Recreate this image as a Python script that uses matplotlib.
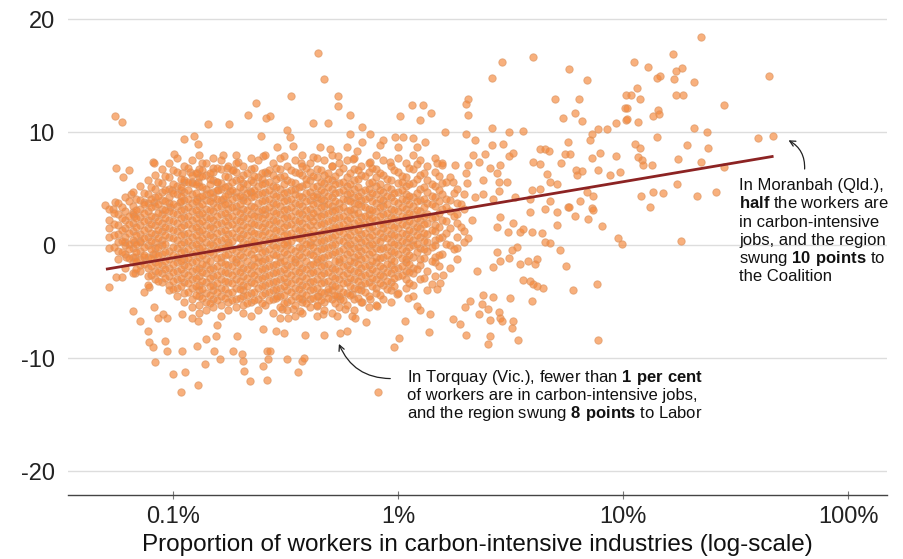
import matplotlib
matplotlib.use("Agg")
from matplotlib import pyplot as plt

plt.rcParams['font.family'] = ['Liberation Sans', 'DejaVu Sans']
plt.rcParams['mathtext.fontset'] = 'custom'
plt.rcParams['mathtext.rm'] = 'Liberation Sans'
plt.rcParams['mathtext.bf'] = 'Liberation Sans:bold'
plt.rcParams['axes.unicode_minus'] = False

# (share of workers in carbon-intensive industries %, swing in points)
upper_left = [
    (0.055, 11.4), (0.059, 10.9), (0.234, 12.6), (0.215, 11.5), (0.143, 10.7), (0.177, 10.7),
    (0.259, 11.3), (0.112, 9.4), (0.124, 9.7), (0.129, 9.0), (0.246, 9.7), (0.101, 8.1),
    (0.167, 8.0), (0.081, 7.4), (0.082, 7.3), (0.056, 6.8), (0.064, 6.7), (0.060, 6.0),
    (0.135, 7.3), (0.110, 6.4), (0.119, 6.5), (0.128, 6.4), (0.112, 5.6), (0.121, 5.6),
    (0.129, 5.6), (0.151, 6.8), (0.174, 6.8), (0.195, 7.4), (0.185, 6.7), (0.251, 7.9),
    (0.262, 6.4), (0.227, 5.6), (0.099, 4.9), (0.108, 4.9), (0.065, 4.5), (0.074, 3.8),
    (0.082, 3.8), (0.050, 3.6), (0.055, 3.8), (0.157, 5.6), (0.159, 4.9), (0.179, 4.8),
    (0.167, 4.1), (0.097, 3.4), (0.107, 3.8), (0.128, 4.1), (0.205, 4.3), (0.220, 4.8),
    (0.066, 2.9), (0.067, 2.6), (0.054, 3.2),
]
upper_mid = [
    (0.335, 13.2), (0.44, 17.0), (0.47, 14.7), (0.54, 13.2), (0.54, 12.3), (0.42, 10.8),
    (0.49, 10.8), (0.61, 11.5), (0.61, 9.8), (0.69, 10.5), (0.75, 9.8), (1.15, 12.4),
    (1.29, 12.4), (1.40, 11.7), (1.25, 11.1), (1.02, 11.4), (1.62, 10.0), (0.32, 10.2),
    (0.34, 8.8), (0.27, 11.4), (0.33, 9.6), (0.97, 9.6), (1.05, 9.6), (1.17, 9.5),
    (0.29, 8.7), (0.45, 8.7), (0.50, 8.5), (0.54, 7.9), (0.59, 8.7), (0.66, 8.3),
    (0.69, 9.1), (0.83, 8.9), (0.86, 9.3), (1.00, 8.7), (1.21, 8.7), (1.32, 9.1),
    (0.31, 7.9), (0.37, 7.3), (0.42, 7.8), (0.51, 7.0), (0.63, 7.6), (0.75, 7.4),
    (0.92, 7.4), (1.21, 7.2), (1.49, 7.3), (1.57, 7.1),
]
upper_right = [
    (2.90, 16.2), (3.98, 16.7), (2.62, 14.8), (5.75, 15.6), (6.9, 14.6), (2.05, 12.9),
    (2.0, 12.5), (2.05, 11.5), (5.0, 12.9), (6.4, 12.9), (5.4, 11.3), (6.1, 11.7),
    (6.6, 11.0), (10.3, 13.3), (10.2, 12.1), (10.3, 11.1), (2.62, 10.4), (3.11, 10.0),
    (3.6, 10.1), (2.0, 9.8), (2.2, 9.3), (2.62, 8.9), (2.93, 9.0), (7.7, 10.3),
    (8.5, 10.3), (9.3, 10.8), (7.3, 9.8), (7.1, 9.3), (5.7, 9.1), (4.28, 8.5),
    (4.5, 8.5), (4.7, 8.3), (5.5, 8.1), (5.8, 8.1), (5.3, 7.3), (7.9, 8.2),
    (7.3, 7.7), (9.3, 7.9), (3.25, 8.2), (3.1, 7.9), (2.15, 8.0), (2.44, 8.1),
    (1.79, 7.1), (2.05, 7.1), (2.29, 7.4), (2.56, 6.8), (2.84, 7.1), (2.75, 6.4),
    (3.98, 7.4), (4.28, 7.2), (6.2, 6.7), (6.6, 6.6), (6.25, 6.2), (7.7, 6.7),
    (8.75, 6.2), (9.7, 6.5), (2.0, 6.4), (2.03, 5.5), (2.38, 5.8), (2.8, 5.6),
    (3.05, 5.6), (4.6, 6.3), (4.74, 5.6), (5.1, 5.4), (3.94, 4.9), (4.28, 5.0),
    (1.76, 5.6), (2.2, 4.3), (2.38, 4.5), (2.65, 4.1), (2.8, 4.8), (3.3, 4.3),
    (3.86, 4.1), (6.9, 4.7), (7.35, 4.4), (4.74, 3.9), (6.44, 3.9), (5.7, 3.4),
    (7.25, 3.3),
]
far_right = [
    (22.2, 18.4), (44.5, 15.0), (16.6, 16.9), (12.9, 15.8), (11.2, 16.2), (18.2, 15.7),
    (17.2, 15.4), (14.6, 15.0), (14.2, 14.8), (16.8, 14.7), (20.6, 14.4), (11.5, 13.9),
    (10.9, 13.3), (11.9, 12.9), (17.2, 13.3), (18.5, 13.3), (28.1, 12.4), (10.4, 12.1),
    (14.3, 12.0), (14.4, 11.6), (13.6, 11.4), (11.6, 10.9), (10.4, 11.2), (20.6, 10.4),
    (23.5, 10.0), (39.9, 9.5), (46.4, 9.7), (14.2, 9.6), (11.3, 9.0), (11.9, 8.6),
    (12.2, 7.5), (11.6, 7.8), (12.3, 7.1), (13.5, 7.1), (19.2, 8.9), (23.8, 8.6),
    (17.6, 7.6), (22.3, 7.4), (28.1, 6.9), (17.4, 5.4), (13.6, 4.7), (15.1, 4.6),
    (12.0, 4.4), (13.2, 3.4), (21.3, 4.4), (26.0, 4.7), (8.1, 1.7), (9.5, 0.6),
    (9.9, 0.1), (18.1, 0.4),
]
lower_right = [
    (3.86, 2.9), (4.5, 3.2), (5.1, 2.9), (5.75, 3.4), (6.1, 2.6), (7.0, 2.3),
    (7.35, 3.1), (2.75, 1.6), (3.08, 1.2), (3.48, 1.2), (3.6, 1.4), (3.94, 1.2),
    (4.36, 1.1), (5.1, 1.8), (2.84, 2.5), (3.25, 2.0), (4.5, 0.3), (4.74, 0.2),
    (5.25, -0.4), (2.75, -0.6), (3.2, -0.4), (3.38, -0.2), (3.1, -1.1), (2.84, -1.4),
    (2.65, -1.9), (3.48, -1.7), (3.78, -1.4), (4.15, -1.2), (4.05, -1.7), (5.6, -1.8),
    (2.25, -2.3), (3.6, -3.1), (3.86, -3.2), (3.98, -3.4), (4.15, -3.6), (4.4, -3.8),
    (6.0, -4.0), (7.65, -3.4), (2.38, -4.4), (2.65, -4.6), (3.15, -4.7), (3.94, -4.9),
    (2.09, -4.9), (1.98, -5.5), (2.36, -5.2), (2.5, -5.6), (2.29, -6.1), (2.56, -6.6),
    (2.8, -5.9), (2.84, -6.4), (2.9, -6.7), (3.25, -6.7), (3.2, -7.3), (1.76, -6.5),
    (1.89, -7.0), (2.0, -7.9), (2.56, -8.0), (2.5, -8.7), (3.4, -8.4), (7.7, -8.4),
]
lower_left = [
    (0.052, -3.7), (0.056, -2.8), (0.059, -2.8), (0.066, -5.8), (0.071, -6.7), (0.077, -7.6),
    (0.078, -8.6), (0.081, -9.0), (0.083, -10.3), (0.092, -8.5), (0.094, -9.4), (0.11, -9.4),
    (0.10, -11.4), (0.113, -11.2), (0.108, -13.0), (0.129, -12.4), (0.128, -8.9), (0.14, -8.3),
    (0.138, -10.5), (0.155, -8.0), (0.152, -9.4), (0.162, -10.1), (0.185, -9.4), (0.203, -9.6),
    (0.205, -10.2), (0.207, -11.1), (0.22, -12.0), (0.262, -11.9), (0.25, -10.7), (0.262, -9.4),
    (0.264, -10.1), (0.193, -8.0), (0.25, -7.4), (0.082, -5.5), (0.09, -6.1), (0.094, -6.4),
    (0.086, -6.4), (0.074, -4.1), (0.078, -3.7), (0.068, -2.5), (0.11, -6.1), (0.121, -6.4),
    (0.129, -6.7), (0.157, -7.1), (0.061, 0.3), (0.067, 0.3), (0.071, 0.4), (0.062, -1.0),
    (0.068, -1.0), (0.074, -1.0), (0.081, -0.8),
]
lower_mid = [
    (0.32, -10.1), (0.36, -11.2), (0.375, -10.2), (0.38, -10.0), (0.386, -7.9), (0.47, -7.9),
    (0.55, -7.8), (0.59, -7.6), (0.72, -6.8), (0.815, -13.0), (0.96, -9.0), (1.01, -8.2),
    (1.07, -6.7), (1.37, -7.7), (0.31, -7.8), (0.287, -7.6), (0.27, -9.4), (0.30, -6.4),
    (0.325, -6.4), (0.367, -5.8), (0.436, -5.4), (0.465, -6.1), (0.535, -6.3), (0.58, -5.6),
    (0.625, -6.3), (0.645, -6.4), (0.305, -5.6), (0.34, -5.6), (0.535, -4.5), (0.55, -4.8),
    (0.625, -4.3), (0.69, -5.0), (0.81, -5.4), (0.75, -4.8), (0.99, -4.3), (1.11, -4.7),
    (1.21, -5.4), (1.39, -6.1), (1.25, -5.7), (0.375, -4.8), (0.44, -4.5), (0.49, -4.1),
    (1.42, -3.4), (1.54, -3.3), (1.58, -2.6), (1.49, -3.9), (0.29, -4.5),
]
# dense middle of the cloud, read row by row (swing, shares)
core_rows = [
    (8.0, [0.13, 0.19, 0.257, 0.375, 0.507, 0.798, 1.16]),
    (7.75, [0.104, 0.151, 0.221, 0.299, 0.436, 0.636, 1.0, 1.46]),
    (7.5, [0.121, 0.163, 0.238, 0.347, 0.47, 0.59, 0.86, 1.25]),
    (7.25, [0.096, 0.14, 0.19, 0.277, 0.404, 0.547, 0.74, 1.08, 1.57]),
    (7.0, [0.112, 0.176, 0.205, 0.322, 0.375, 0.507, 0.686, 0.928, 1.35]),
    (6.75, [0.089, 0.13, 0.163, 0.221, 0.299, 0.436, 0.636, 0.798, 1.16]),
    (6.5, [0.104, 0.151, 0.19, 0.257, 0.347, 0.404, 0.547, 0.74, 1.0, 1.46]),
    (6.25, [0.083, 0.121, 0.14, 0.205, 0.277, 0.375, 0.47, 0.686, 0.86, 1.25]),
    (6.0, [0.096, 0.13, 0.176, 0.238, 0.299, 0.436, 0.59, 0.798, 1.08, 1.7]),
    (5.75, [0.077, 0.112, 0.151, 0.19, 0.221, 0.322, 0.404, 0.507, 0.636, 0.928, 1.35]),
    (5.5, [0.089, 0.121, 0.163, 0.205, 0.257, 0.347, 0.47, 0.547, 0.74, 1.0, 1.16, 1.57]),
    (5.25, [0.071, 0.104, 0.13, 0.176, 0.238, 0.277, 0.375, 0.436, 0.59, 0.798, 1.08, 1.46]),
    (5.0, [0.083, 0.096, 0.14, 0.163, 0.205, 0.299, 0.347, 0.507, 0.636, 0.74, 0.928, 1.25, 1.83]),
    (4.75, [0.066, 0.089, 0.112, 0.151, 0.19, 0.221, 0.257, 0.322, 0.404, 0.47, 0.547, 0.686, 0.86, 1.0, 1.35]),
    (4.5, [0.077, 0.104, 0.121, 0.14, 0.176, 0.238, 0.277, 0.347, 0.436, 0.59, 0.798, 1.08, 1.57, 1.97]),
    (4.25, [0.061, 0.083, 0.096, 0.13, 0.151, 0.19, 0.221, 0.299, 0.375, 0.436, 0.507, 0.636, 0.74, 0.928, 1.16, 1.46]),
    (4.0, [0.071, 0.089, 0.112, 0.14, 0.163, 0.205, 0.257, 0.322, 0.404, 0.47, 0.59, 0.686, 0.86, 1.08, 1.25, 1.7]),
    (3.75, [0.057, 0.077, 0.096, 0.121, 0.151, 0.176, 0.238, 0.277, 0.347, 0.436, 0.547, 0.636, 0.798, 1.0, 1.35, 1.83]),
    (3.5, [0.066, 0.083, 0.104, 0.13, 0.163, 0.19, 0.221, 0.299, 0.375, 0.47, 0.507, 0.686, 0.86, 1.16, 1.46]),
    (3.25, [0.052, 0.071, 0.089, 0.112, 0.14, 0.176, 0.205, 0.257, 0.322, 0.404, 0.547, 0.636, 0.74, 0.928, 1.08, 1.57, 1.97]),
    (3.0, [0.061, 0.077, 0.096, 0.121, 0.151, 0.19, 0.238, 0.277, 0.347, 0.436, 0.507, 0.59, 0.798, 1.0, 1.25, 1.7]),
    (2.75, [0.057, 0.066, 0.089, 0.104, 0.13, 0.163, 0.221, 0.257, 0.299, 0.375, 0.47, 0.636, 0.74, 0.86, 1.16, 1.35, 1.83]),
    (2.5, [0.071, 0.083, 0.112, 0.14, 0.176, 0.205, 0.238, 0.322, 0.404, 0.436, 0.547, 0.686, 0.928, 1.08, 1.46]),
    (2.25, [0.052, 0.061, 0.077, 0.096, 0.121, 0.151, 0.19, 0.277, 0.347, 0.507, 0.59, 0.74, 0.798, 1.0, 1.25, 1.57, 2.13]),
    (2.0, [0.066, 0.089, 0.104, 0.13, 0.163, 0.221, 0.257, 0.299, 0.375, 0.47, 0.636, 0.86, 1.16, 1.35, 1.83]),
    (1.75, [0.057, 0.071, 0.083, 0.112, 0.14, 0.176, 0.205, 0.238, 0.322, 0.404, 0.436, 0.547, 0.686, 0.928, 1.08, 1.46]),
    (1.5, [0.052, 0.061, 0.077, 0.096, 0.121, 0.151, 0.19, 0.277, 0.347, 0.507, 0.59, 0.74, 0.86, 1.0, 1.25, 1.7]),
    (1.25, [0.066, 0.089, 0.104, 0.13, 0.163, 0.221, 0.257, 0.299, 0.375, 0.47, 0.547, 0.636, 0.798, 1.16, 1.46, 1.97]),
    (1.0, [0.057, 0.071, 0.083, 0.112, 0.14, 0.176, 0.205, 0.238, 0.322, 0.404, 0.436, 0.686, 0.928, 1.08, 1.35]),
    (0.75, [0.052, 0.061, 0.077, 0.096, 0.121, 0.151, 0.19, 0.277, 0.347, 0.507, 0.59, 0.74, 0.86, 1.0, 1.25, 1.57, 1.83]),
    (0.5, [0.066, 0.089, 0.104, 0.13, 0.163, 0.221, 0.257, 0.299, 0.375, 0.47, 0.547, 0.636, 0.798, 1.16, 1.46]),
    (0.25, [0.057, 0.071, 0.083, 0.112, 0.14, 0.176, 0.205, 0.238, 0.322, 0.404, 0.436, 0.686, 0.928, 1.08, 1.35, 1.97]),
    (0.0, [0.061, 0.077, 0.089, 0.121, 0.151, 0.176, 0.221, 0.277, 0.322, 0.404, 0.507, 0.59, 0.74, 1.0, 1.16, 1.46, 1.7]),
    (-0.25, [0.052, 0.066, 0.083, 0.104, 0.13, 0.163, 0.205, 0.238, 0.299, 0.375, 0.47, 0.636, 0.798, 0.86, 1.25, 1.83]),
    (-0.5, [0.057, 0.071, 0.096, 0.112, 0.14, 0.19, 0.257, 0.347, 0.436, 0.547, 0.686, 0.928, 1.08, 1.35]),
    (-0.75, [0.061, 0.083, 0.089, 0.121, 0.151, 0.176, 0.221, 0.277, 0.322, 0.404, 0.507, 0.59, 0.74, 1.0, 1.57]),
    (-1.0, [0.066, 0.077, 0.104, 0.13, 0.163, 0.205, 0.238, 0.299, 0.375, 0.47, 0.636, 0.798, 0.86, 1.16, 1.46]),
    (-1.25, [0.057, 0.071, 0.096, 0.112, 0.14, 0.19, 0.257, 0.347, 0.436, 0.547, 0.686, 0.928, 1.08, 1.25, 1.83]),
    (-1.5, [0.066, 0.083, 0.104, 0.121, 0.163, 0.19, 0.238, 0.299, 0.347, 0.436, 0.547, 0.636, 0.798, 1.08, 1.46]),
    (-1.75, [0.071, 0.089, 0.112, 0.14, 0.176, 0.221, 0.277, 0.322, 0.404, 0.47, 0.59, 0.74, 0.928, 1.25]),
    (-2.0, [0.061, 0.077, 0.096, 0.13, 0.151, 0.205, 0.257, 0.375, 0.507, 0.686, 0.86, 1.0, 1.16, 1.7]),
    (-2.25, [0.071, 0.083, 0.104, 0.121, 0.163, 0.19, 0.238, 0.299, 0.347, 0.436, 0.547, 0.636, 0.798, 1.08, 1.35]),
    (-2.5, [0.066, 0.089, 0.112, 0.14, 0.176, 0.221, 0.277, 0.322, 0.404, 0.47, 0.59, 0.74, 0.928, 1.16]),
    (-2.75, [0.077, 0.096, 0.13, 0.151, 0.205, 0.257, 0.375, 0.507, 0.686, 0.86, 1.0, 1.46]),
    (-3.0, [0.083, 0.104, 0.121, 0.163, 0.19, 0.238, 0.299, 0.347, 0.436, 0.547, 0.636, 0.798, 1.08, 1.25]),
    (-3.25, [0.089, 0.112, 0.14, 0.176, 0.221, 0.277, 0.322, 0.404, 0.47, 0.59, 0.74, 0.928]),
    (-3.5, [0.077, 0.096, 0.13, 0.151, 0.205, 0.257, 0.375, 0.507, 0.686, 0.86, 1.16]),
    (-3.75, [0.104, 0.121, 0.163, 0.19, 0.238, 0.299, 0.347, 0.436, 0.547, 0.636, 0.798, 1.08]),
    (-4.0, [0.096, 0.13, 0.151, 0.205, 0.277, 0.322, 0.404, 0.507, 0.686, 0.928, 1.35]),
    (-4.25, [0.112, 0.14, 0.176, 0.221, 0.257, 0.375, 0.47, 0.59, 0.798, 1.0]),
    (-4.5, [0.104, 0.13, 0.163, 0.205, 0.299, 0.347, 0.436, 0.547, 0.74, 1.16]),
    (-4.75, [0.121, 0.151, 0.19, 0.238, 0.277, 0.404, 0.507, 0.636, 0.86]),
    (-5.0, [0.112, 0.14, 0.176, 0.221, 0.322, 0.375, 0.47, 0.686, 0.928]),
    (-5.25, [0.13, 0.163, 0.205, 0.257, 0.347, 0.436, 0.59, 0.798]),
    (-5.5, [0.121, 0.151, 0.19, 0.299, 0.404, 0.547, 0.74]),
    (-5.75, [0.14, 0.176, 0.238, 0.322, 0.47, 0.636]),
    (-6.0, [0.13, 0.205, 0.277, 0.375, 0.507]),
    (-6.25, [0.163, 0.221, 0.347, 0.436]),
]
core_rows_b = [
    (6.875, [0.117, 0.157, 0.23, 0.288, 0.39, 0.569, 0.769, 1.12]),
    (6.625, [0.10, 0.135, 0.183, 0.267, 0.335, 0.453, 0.661, 0.964]),
    (6.375, [0.126, 0.146, 0.213, 0.248, 0.361, 0.489, 0.613, 0.829, 1.30]),
    (6.125, [0.0925, 0.135, 0.17, 0.23, 0.311, 0.42, 0.527, 0.713, 1.04, 1.52]),
    (5.875, [0.108, 0.146, 0.198, 0.248, 0.288, 0.39, 0.489, 0.661, 0.894, 1.21]),
    (5.625, [0.086, 0.117, 0.157, 0.183, 0.267, 0.335, 0.453, 0.569, 0.769, 1.04, 1.64]),
    (5.375, [0.10, 0.126, 0.146, 0.213, 0.248, 0.311, 0.39, 0.527, 0.613, 0.829, 1.12, 1.41]),
    (5.125, [0.08, 0.108, 0.135, 0.17, 0.198, 0.288, 0.361, 0.42, 0.489, 0.661, 0.894, 1.30]),
    (4.875, [0.0925, 0.117, 0.157, 0.183, 0.23, 0.267, 0.335, 0.453, 0.569, 0.713, 0.829, 1.04, 1.52]),
    (4.625, [0.074, 0.10, 0.126, 0.146, 0.213, 0.248, 0.311, 0.39, 0.527, 0.613, 0.769, 0.964, 1.21, 1.77]),
    (4.375, [0.086, 0.108, 0.135, 0.17, 0.198, 0.23, 0.288, 0.361, 0.42, 0.489, 0.661, 0.894, 1.12, 1.41]),
    (4.125, [0.0685, 0.08, 0.117, 0.157, 0.183, 0.267, 0.335, 0.453, 0.569, 0.713, 0.829, 1.04, 1.30, 1.64]),
    (3.875, [0.0635, 0.0925, 0.108, 0.126, 0.146, 0.213, 0.248, 0.311, 0.39, 0.527, 0.613, 0.769, 0.964, 1.21, 1.52]),
    (3.625, [0.074, 0.086, 0.10, 0.135, 0.17, 0.198, 0.288, 0.361, 0.42, 0.489, 0.661, 0.894, 1.12, 1.41, 1.90]),
    (3.375, [0.059, 0.08, 0.117, 0.157, 0.183, 0.23, 0.267, 0.335, 0.453, 0.569, 0.713, 0.829, 1.04, 1.30, 1.64]),
    (3.125, [0.0685, 0.0925, 0.108, 0.126, 0.146, 0.213, 0.248, 0.311, 0.39, 0.527, 0.613, 0.769, 0.964, 1.21]),
    (2.875, [0.0545, 0.074, 0.086, 0.10, 0.135, 0.17, 0.198, 0.288, 0.361, 0.42, 0.489, 0.661, 0.894, 1.12, 1.52]),
    (2.625, [0.0635, 0.08, 0.117, 0.157, 0.183, 0.23, 0.267, 0.335, 0.453, 0.569, 0.713, 0.829, 1.04, 1.30, 1.77]),
    (2.375, [0.059, 0.0685, 0.0925, 0.108, 0.126, 0.146, 0.213, 0.248, 0.311, 0.39, 0.527, 0.613, 0.769, 0.964, 1.21, 1.41]),
    (2.125, [0.074, 0.086, 0.10, 0.135, 0.17, 0.198, 0.288, 0.361, 0.42, 0.489, 0.661, 0.894, 1.12, 1.64]),
    (1.875, [0.0545, 0.0635, 0.08, 0.117, 0.157, 0.183, 0.23, 0.267, 0.335, 0.453, 0.569, 0.713, 0.829, 1.04, 1.30]),
    (1.625, [0.0685, 0.0925, 0.108, 0.126, 0.146, 0.213, 0.248, 0.311, 0.39, 0.527, 0.613, 0.769, 0.964, 1.21, 1.52, 1.90]),
    (1.375, [0.059, 0.074, 0.086, 0.10, 0.135, 0.17, 0.198, 0.288, 0.361, 0.42, 0.489, 0.661, 0.894, 1.12, 1.41]),
    (1.125, [0.0635, 0.08, 0.117, 0.157, 0.183, 0.23, 0.267, 0.335, 0.453, 0.569, 0.713, 0.829, 1.04, 1.30, 1.64]),
    (0.875, [0.0545, 0.0685, 0.0925, 0.108, 0.126, 0.146, 0.213, 0.248, 0.311, 0.39, 0.527, 0.613, 0.769, 0.964, 1.21]),
    (0.625, [0.074, 0.086, 0.10, 0.135, 0.17, 0.198, 0.288, 0.361, 0.42, 0.489, 0.661, 0.894, 1.12, 1.52, 2.05]),
    (0.375, [0.059, 0.08, 0.117, 0.157, 0.183, 0.23, 0.267, 0.335, 0.453, 0.569, 0.713, 0.829, 1.04, 1.30]),
    (0.125, [0.0635, 0.0685, 0.0925, 0.108, 0.126, 0.146, 0.213, 0.248, 0.311, 0.39, 0.527, 0.613, 0.769, 0.964, 1.21, 1.64]),
    (-0.125, [0.0545, 0.074, 0.086, 0.10, 0.135, 0.17, 0.198, 0.288, 0.361, 0.42, 0.489, 0.661, 0.894, 1.12, 1.41]),
    (-0.375, [0.0635, 0.08, 0.117, 0.157, 0.183, 0.23, 0.267, 0.335, 0.453, 0.569, 0.713, 0.829, 1.04, 1.30, 1.77]),
    (-0.625, [0.059, 0.0685, 0.0925, 0.108, 0.126, 0.146, 0.213, 0.248, 0.311, 0.39, 0.527, 0.613, 0.769, 0.964, 1.21]),
    (-0.875, [0.074, 0.086, 0.10, 0.135, 0.17, 0.198, 0.288, 0.361, 0.42, 0.489, 0.661, 0.894, 1.12, 1.52]),
    (-1.125, [0.0635, 0.08, 0.117, 0.157, 0.183, 0.23, 0.267, 0.335, 0.453, 0.569, 0.713, 0.829, 1.04, 1.30]),
    (-1.375, [0.0685, 0.0925, 0.108, 0.126, 0.146, 0.213, 0.248, 0.311, 0.39, 0.527, 0.613, 0.769, 0.964, 1.41]),
    (-1.625, [0.074, 0.086, 0.10, 0.135, 0.17, 0.198, 0.288, 0.361, 0.42, 0.489, 0.661, 0.894, 1.12]),
    (-1.875, [0.08, 0.117, 0.157, 0.183, 0.23, 0.267, 0.335, 0.453, 0.569, 0.713, 0.829, 1.04, 1.52]),
    (-2.125, [0.0685, 0.0925, 0.108, 0.126, 0.146, 0.213, 0.248, 0.311, 0.39, 0.527, 0.613, 0.769, 0.964, 1.21]),
    (-2.375, [0.086, 0.10, 0.135, 0.17, 0.198, 0.288, 0.361, 0.42, 0.489, 0.661, 0.894, 1.12]),
    (-2.625, [0.08, 0.117, 0.157, 0.183, 0.23, 0.267, 0.335, 0.453, 0.569, 0.713, 0.829, 1.04]),
    (-2.875, [0.0925, 0.108, 0.126, 0.146, 0.213, 0.248, 0.311, 0.39, 0.527, 0.613, 0.769, 0.964, 1.30]),
    (-3.125, [0.086, 0.10, 0.135, 0.17, 0.198, 0.288, 0.361, 0.42, 0.489, 0.661, 0.894]),
    (-3.375, [0.117, 0.157, 0.183, 0.23, 0.267, 0.335, 0.453, 0.569, 0.713, 0.829, 1.12]),
    (-3.625, [0.108, 0.126, 0.146, 0.213, 0.248, 0.311, 0.39, 0.527, 0.613, 0.769, 0.964]),
    (-3.875, [0.10, 0.135, 0.17, 0.198, 0.288, 0.361, 0.42, 0.489, 0.661, 0.894]),
    (-4.125, [0.117, 0.157, 0.183, 0.23, 0.267, 0.335, 0.453, 0.569, 0.713]),
    (-4.375, [0.126, 0.146, 0.213, 0.248, 0.311, 0.39, 0.527, 0.613, 0.829]),
    (-4.625, [0.135, 0.17, 0.198, 0.288, 0.361, 0.42, 0.489, 0.661]),
    (-4.875, [0.157, 0.183, 0.23, 0.267, 0.335, 0.453, 0.569]),
    (-5.125, [0.146, 0.213, 0.248, 0.311, 0.39, 0.527]),
]

# trend line end points
fit_pct = [0.051, 46.0]
fit_swing = [-2.1, 7.85]

x_ticks = [0.1, 1, 10, 100]
x_tick_labels = ['0.1%', '1%', '10%', '100%']
y_ticks = [-20, -10, 0, 10, 20]

moranbah_point = (53, 9.4)
moranbah_lines = [
    'In Moranbah (Qld.),',
    r'$\mathbf{half}$ the workers are',
    'in carbon-intensive',
    'jobs, and the region',
    r'swung $\mathbf{10\ points}$ to',
    'the Coalition',
]
torquay_point = (0.54, -8.5)
torquay_lines = [
    r'In Torquay (Vic.), fewer than $\mathbf{1\ per\ cent}$',
    'of workers are in carbon-intensive jobs,',
    r'and the region swung $\mathbf{8\ points}$ to Labor',
]

pts = upper_left + upper_mid + upper_right + far_right + lower_right + lower_left + lower_mid
for swing, shares in core_rows + core_rows_b:
    pts += [(s, swing) for s in shares]
xs = [p[0] for p in pts]
ys = [p[1] for p in pts]

fig = plt.figure(figsize=(9.04, 5.59), dpi=100)
ax = fig.add_axes([0.0752, 0.1145, 0.906, 0.8855])

ax.scatter(xs, ys, s=28, facecolor='#f5883a', edgecolor='#dc935f', linewidth=0.7,
           alpha=0.66, zorder=3)
ax.plot(fit_pct, fit_swing, color='#8c2323', linewidth=2.0, zorder=4)

ax.set_xscale('log')
ax.set_xlim(0.0341, 149)
ax.set_ylim(-22.1, 21.7)
ax.set_xticks(x_ticks)
ax.set_xticklabels(x_tick_labels)
ax.minorticks_off()
ax.set_yticks(y_ticks)
ax.yaxis.grid(True, color='#dddddd', linewidth=1.0)
ax.set_axisbelow(True)
for side in ['top', 'right', 'left']:
    ax.spines[side].set_visible(False)
ax.spines['bottom'].set_color('#444444')
ax.spines['bottom'].set_linewidth(1.0)
ax.tick_params(axis='y', length=0, pad=9.5, labelsize=17, labelcolor='#222222')
ax.tick_params(axis='x', direction='inout', length=6, color='#777777', pad=5,
               labelsize=17, labelcolor='#222222')
ax.set_xlabel('Proportion of workers in carbon-intensive industries (log-scale)',
              fontsize=17.5, color='#111111', labelpad=4.5)

ax.annotate('', xy=moranbah_point, xytext=(64, 6.5),
            arrowprops=dict(arrowstyle='->', color='#222222', lw=0.9,
                            connectionstyle='arc3,rad=0.35'))
for i, line in enumerate(moranbah_lines):
    ax.annotate(line, xy=(32.8, 4.85), xytext=(0, -13 * i), textcoords='offset points',
                fontsize=12, color='#111111', ha='left', va='baseline')

ax.annotate('', xy=torquay_point, xytext=(0.95, -11.8),
            arrowprops=dict(arrowstyle='->', color='#222222', lw=0.9,
                            connectionstyle='arc3,rad=-0.35'))
for i, line in enumerate(torquay_lines):
    ax.annotate(line, xy=(1.10, -12.1), xytext=(0, -13 * i), textcoords='offset points',
                fontsize=12, color='#111111', ha='left', va='baseline')

fig.savefig('out.png', dpi=100)
